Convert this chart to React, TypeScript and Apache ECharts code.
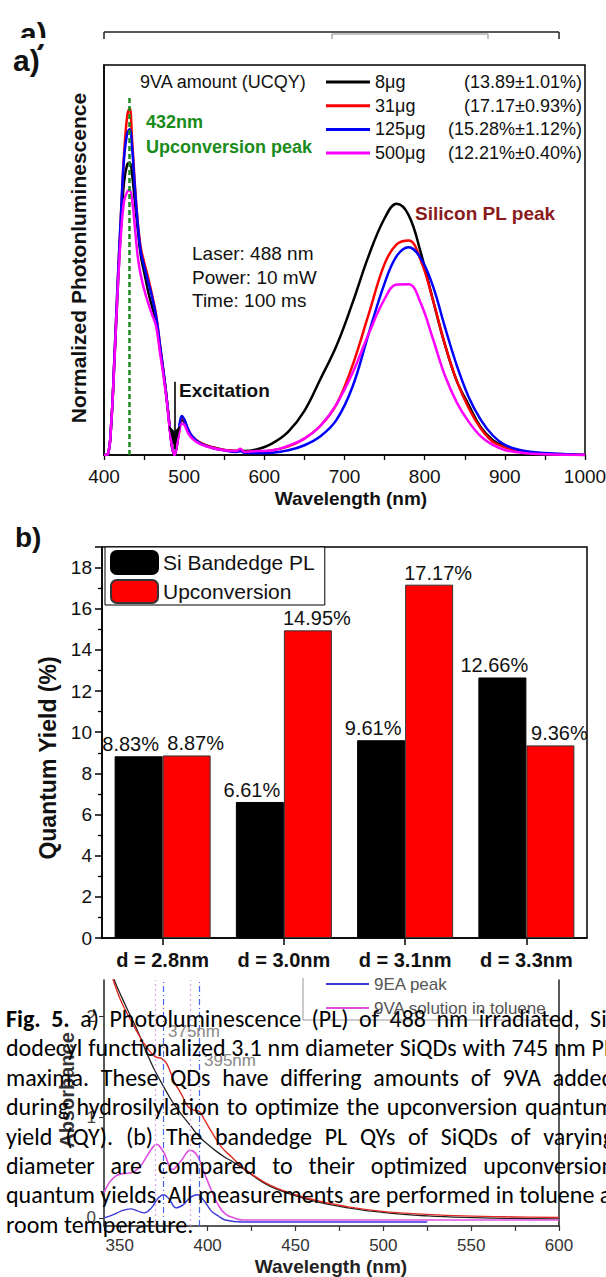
import React, { useEffect, useRef } from "react";
import * as echarts from "echarts";

// ---------------- Panel a: normalized photoluminescence ----------------
const wavelengthA = [400, 405, 409, 413, 417, 421, 425, 429, 432, 435, 438, 442, 446, 450, 455, 460, 465, 470, 475, 479, 482, 485, 488, 491, 494, 497, 500, 505, 510, 520, 535, 550, 565, 570, 575, 590, 610, 630, 650, 670, 690, 710, 730, 750, 765, 780, 795, 810, 825, 840, 855, 870, 885, 900, 920, 950, 1000];
const pl8ug = [0, 0.003, 0.08, 0.24, 0.42, 0.58, 0.70, 0.745, 0.75, 0.72, 0.66, 0.58, 0.51, 0.47, 0.42, 0.38, 0.34, 0.27, 0.2, 0.13, 0.07, 0.02, 0, 0.025, 0.065, 0.09, 0.085, 0.06, 0.045, 0.03, 0.02, 0.013, 0.01, 0.014, 0.01, 0.014, 0.03, 0.06, 0.113, 0.195, 0.28, 0.39, 0.51, 0.607, 0.644, 0.615, 0.52, 0.40, 0.285, 0.19, 0.128, 0.071, 0.038, 0.022, 0.01, 0.003, 0];
const pl31ug = [0, 0.003, 0.08, 0.25, 0.44, 0.61, 0.77, 0.87, 0.89, 0.81, 0.71, 0.6, 0.53, 0.495, 0.455, 0.41, 0.36, 0.28, 0.2, 0.13, 0.07, 0.02, 0, 0.028, 0.07, 0.095, 0.09, 0.065, 0.048, 0.032, 0.02, 0.013, 0.01, 0.015, 0.008, 0.008, 0.012, 0.022, 0.042, 0.075, 0.13, 0.23, 0.36, 0.49, 0.54, 0.55, 0.50, 0.40, 0.285, 0.19, 0.12, 0.068, 0.034, 0.02, 0.009, 0.003, 0];
const pl125ug = [0, 0.003, 0.08, 0.25, 0.44, 0.61, 0.76, 0.825, 0.835, 0.79, 0.70, 0.595, 0.52, 0.485, 0.445, 0.405, 0.355, 0.28, 0.2, 0.13, 0.07, 0.02, 0, 0.03, 0.075, 0.1, 0.092, 0.066, 0.048, 0.03, 0.018, 0.012, 0.008, 0.01, 0.006, 0.005, 0.006, 0.012, 0.025, 0.048, 0.09, 0.175, 0.31, 0.44, 0.51, 0.533, 0.505, 0.435, 0.33, 0.23, 0.148, 0.09, 0.05, 0.026, 0.012, 0.005, 0];
const pl500ug = [0, 0.003, 0.08, 0.24, 0.42, 0.56, 0.65, 0.675, 0.679, 0.655, 0.595, 0.51, 0.46, 0.425, 0.39, 0.36, 0.33, 0.26, 0.19, 0.125, 0.065, 0.02, 0, 0.025, 0.06, 0.08, 0.078, 0.056, 0.042, 0.028, 0.018, 0.012, 0.01, 0.016, 0.008, 0.01, 0.012, 0.024, 0.042, 0.075, 0.13, 0.21, 0.31, 0.40, 0.437, 0.438, 0.39, 0.30, 0.205, 0.135, 0.085, 0.048, 0.026, 0.013, 0.006, 0.002, 0];
const amountNames = ["8μg", "31μg", "125μg", "500μg"];
const ucqyLabels = ["(13.89±1.01%)", "(17.17±0.93%)", "(15.28%±1.12%)", "(12.21%±0.40%)"];
const plColors = ["#000000", "#ff0000", "#0000ff", "#ff00ff"];
const upconversionPeakNm = 432;
const upconversionMarkTop = 0.92;
const excitationNm = 488;
const excitationArrowFrom = 0.188;
const excitationArrowTo = 0.015;

// ---------------- Panel b: quantum yields ----------------
const diameters = ["d = 2.8nm", "d = 3.0nm", "d = 3.1nm", "d = 3.3nm"];
const siBandedgeQY = [8.83, 6.61, 9.61, 12.66];
const upconversionQY = [8.87, 14.95, 17.17, 9.36];

// ---------------- Panel c: absorbance (partly hidden) ----------------
const absBlackX = [341, 345, 348, 354, 360, 365, 370, 375, 380, 385, 390, 395, 400, 405, 410, 414, 420, 436, 458, 480, 502, 525, 546, 575, 600];
const absBlackY = [2.6, 2.45, 2.31, 2.08, 1.86, 1.65, 1.46, 1.3, 1.15, 1.03, 0.92, 0.81, 0.73, 0.66, 0.6, 0.56, 0.49, 0.31, 0.18, 0.1, 0.05, 0.02, 0.005, -0.005, -0.01];
const absRedX = [341, 345, 350, 355, 360, 365, 370, 374, 377, 381, 385, 389, 392, 395, 398, 402, 408, 414, 420, 436, 458, 480, 502, 525, 546, 575, 600];
const absRedY = [2.6, 2.42, 2.18, 2.0, 1.84, 1.7, 1.6, 1.58, 1.52, 1.35, 1.23, 1.1, 1.07, 1.06, 0.98, 0.86, 0.7, 0.6, 0.5, 0.32, 0.19, 0.11, 0.06, 0.035, 0.02, 0.01, 0.005];
const absMagentaX = [341, 344, 348, 352, 357, 362, 366, 371, 375, 380, 385, 390, 394, 398, 402, 406, 410, 415, 420, 450, 500, 550, 600];
const absMagentaY = [0.25, 0.35, 0.42, 0.44, 0.45, 0.52, 0.63, 0.73, 0.65, 0.48, 0.57, 0.67, 0.62, 0.45, 0.28, 0.13, 0.04, 0.0, -0.02, -0.02, -0.02, -0.02, -0.02];
const absBlueX = [341, 346, 351, 356, 360, 364, 368, 372, 375, 378, 382, 386, 390, 394, 398, 402, 406, 410, 420, 450, 500, 525];
const absBlueY = [0.0, 0.03, 0.07, 0.09, 0.07, 0.05, 0.1, 0.2, 0.23, 0.19, 0.1, 0.13, 0.2, 0.23, 0.17, 0.07, 0.02, -0.02, -0.04, -0.04, -0.04, -0.04];
const dottedRefNm = [370, 390];
const dashDotRefNm = [375, 395];

const captionRest = [
  "a) Photoluminescence (PL) of 488 nm irradiated, Si-",
  "dodecyl functionalized 3.1 nm diameter SiQDs with 745 nm PL",
  "maxima. These QDs have differing amounts of 9VA added",
  "during hydrosilylation to optimize the upconversion quantum",
  "yield (QY). (b) The bandedge PL QYs of SiQDs of varying",
  "diameter are compared to their optimized upconversion",
  "quantum yields. All measurements are performed in toluene at",
  "room temperature.",
];

const FONT = "'Liberation Sans', Arial, Helvetica, sans-serif";

function text(x: number, y: number, t: string, o: any = {}) {
  return {
    type: "text",
    x,
    y,
    rotation: o.rotation || 0,
    z: 50,
    style: {
      text: t,
      fill: o.color || "#111",
      fontSize: o.size || 18,
      fontWeight: o.bold ? "bold" : "normal",
      fontFamily: FONT,
      align: o.align || "left",
      verticalAlign: "middle",
    },
  };
}
function line(x1: number, y1: number, x2: number, y2: number, color = "#222", w = 1.5, dash?: number[]) {
  return { type: "line", z: 50, shape: { x1, y1, x2, y2 }, style: { stroke: color, lineWidth: w, lineDash: dash } };
}

function buildOption() {
  const plSeriesValues = [pl8ug, pl31ug, pl125ug, pl500ug];
  const ucqyByName: Record<string, string> = {};
  amountNames.forEach((n, i) => (ucqyByName[n] = ucqyLabels[i]));
  const axisLineStyle = { color: "#000", width: 1.5 };

  const plSeries = amountNames.map((name, i) => {
    const s: any = {
      type: "line",
      name,
      xAxisIndex: 0,
      yAxisIndex: 0,
      data: wavelengthA.map((w, j) => [w, plSeriesValues[i][j]]),
      symbol: "none",
      showSymbol: false,
      smooth: 0.4,
      lineStyle: { color: plColors[i], width: 2.5 },
      itemStyle: { color: plColors[i] },
      emphasis: { disabled: true },
    };
    if (i === 0) {
      s.markLine = {
        silent: true,
        symbol: ["none", "arrow"],
        symbolSize: [9, 24],
        label: { show: false },
        lineStyle: { color: "#000", width: 1.6, type: "solid" },
        data: [[{ coord: [excitationNm, excitationArrowFrom] }, { coord: [excitationNm, excitationArrowTo] }]],
      };
    }
    if (i === 3) {
      s.markLine = {
        silent: true,
        symbol: ["none", "none"],
        label: { show: false },
        lineStyle: { color: "#1a8c1a", width: 2.5, type: [5, 3] },
        data: [[{ coord: [upconversionPeakNm, 0] }, { coord: [upconversionPeakNm, upconversionMarkTop] }]],
      };
    }
    return s;
  });

  const absSeries = [
    {
      name: "SiQDs", x: absBlackX, y: absBlackY, color: "#222", w: 1.3,
      markLine: {
        silent: true, symbol: ["none", "none"], label: { show: false },
        lineStyle: { color: "#d8a8ea", width: 1.3, type: [2, 3] },
        data: dottedRefNm.map((v) => ({ xAxis: v, lineStyle: { color: "#d8a8ea", width: 1.3, type: [2, 3] } })),
      },
    },
    {
      name: "SiQDs + 9VA", x: absRedX, y: absRedY, color: "#e02a24", w: 1.4,
      markLine: {
        silent: true, symbol: ["none", "none"], label: { show: false },
        lineStyle: { color: "#4a66f0", width: 1.2, type: [6, 3, 1, 3] },
        data: dashDotRefNm.map((v) => ({ xAxis: v, lineStyle: { color: "#4a66f0", width: 1.2, type: [6, 3, 1, 3] } })),
      },
    },
    { name: "9EA peak", x: absBlueX, y: absBlueY, color: "#3a3ad6", w: 1.4 },
    { name: "9VA solution in toluene", x: absMagentaX, y: absMagentaY, color: "#e050e0", w: 1.6 },
  ].map((d) => ({
    type: "line",
    name: d.name,
    xAxisIndex: 2,
    yAxisIndex: 2,
    data: d.x.map((x, i) => [x, d.y[i]]),
    symbol: "none",
    smooth: 0.4,
    lineStyle: { color: d.color, width: d.w },
    itemStyle: { color: d.color },
    markLine: (d as any).markLine,
    emphasis: { disabled: true },
  }));

  return {
    animation: false,
    textStyle: { fontFamily: FONT },
    grid: [
      { left: 104, top: 65, width: 481, height: 390, show: true, borderColor: "#000", borderWidth: 1.5, outerBoundsMode: "none" },
      { left: 102, top: 547, width: 485, height: 391, show: true, borderColor: "#000", borderWidth: 1.5, outerBoundsMode: "none" },
      { left: 104, top: 980, width: 455, height: 246, outerBoundsMode: "none" },
    ],
    legend: [
      {
        data: amountNames,
        orient: "vertical",
        left: 326,
        top: 72,
        padding: 0,
        icon: "rect",
        itemWidth: 44,
        itemHeight: 3,
        itemGap: 3.7,
        selectedMode: false,
        formatter: (name: string) => `{a|${name}}{b|${ucqyByName[name]}}`,
        textStyle: {
          fontSize: 18,
          color: "#111",
          lineHeight: 20,
          fontFamily: FONT,
          rich: {
            a: { width: 58, fontSize: 18, color: "#111", fontFamily: FONT, lineHeight: 20 },
            b: { width: 149, align: "right", fontSize: 18, color: "#111", fontFamily: FONT, lineHeight: 20 },
          },
        },
      },
      {
        data: ["Si Bandedge PL", "Upconversion"],
        orient: "vertical",
        left: 105,
        top: 547,
        padding: [3, 10, 1, 5],
        itemWidth: 47,
        itemHeight: 23,
        itemGap: 4,
        selectedMode: false,
        borderColor: "#000",
        borderWidth: 1,
        backgroundColor: "#fff",
        textStyle: { fontSize: 21, color: "#111", fontFamily: FONT },
      },
      {
        data: ["9EA peak", "9VA solution in toluene"],
        orient: "vertical",
        left: 326,
        top: 974,
        padding: 0,
        icon: "rect",
        itemWidth: 43,
        itemHeight: 2,
        itemGap: 4,
        selectedMode: false,
        textStyle: { fontSize: 17, color: "#555", lineHeight: 20, fontFamily: FONT },
      },
    ],
    xAxis: [
      {
        gridIndex: 0, type: "value", min: 400, max: 1000, interval: 100,
        axisLine: { onZero: false, lineStyle: axisLineStyle },
        axisTick: { show: true, length: 5, lineStyle: { color: "#000", width: 1.3 } },
        minorTick: { show: true, splitNumber: 2, length: 5, lineStyle: { color: "#000", width: 1.3 } },
        axisLabel: { fontSize: 19, color: "#111", margin: 12, fontFamily: FONT, formatter: (v: number) => String(v) },
        splitLine: { show: false },
        minorSplitLine: { show: false },
      },
      {
        gridIndex: 1, type: "category", data: diameters,
        axisLine: { onZero: false, lineStyle: axisLineStyle },
        axisTick: { show: true, alignWithLabel: true, length: 7, lineStyle: { color: "#000", width: 1.5 } },
        axisLabel: { fontSize: 20, fontWeight: "bold", color: "#111", margin: 12, fontFamily: FONT },
        splitLine: { show: false },
      },
      {
        gridIndex: 2, type: "value", min: 341, max: 600, splitNumber: 5,
        axisLine: { onZero: false, lineStyle: { color: "#222", width: 1.5 } },
        axisTick: { show: true, length: 5, lineStyle: { color: "#333", width: 1.2 } },
        minorTick: { show: true, splitNumber: 2, length: 5, lineStyle: { color: "#333", width: 1.2 } },
        axisLabel: { showMinLabel: false, fontSize: 17, color: "#333", margin: 11, fontFamily: FONT, formatter: (v: number) => String(v) },
        splitLine: { show: false },
        minorSplitLine: { show: false },
      },
    ],
    yAxis: [
      {
        gridIndex: 0, type: "value", min: 0, max: 1,
        axisLine: { show: true, onZero: false, lineStyle: axisLineStyle },
        axisTick: { show: false },
        axisLabel: { show: false },
        splitLine: { show: false },
      },
      {
        gridIndex: 1, type: "value", min: 0, max: 19, interval: 2,
        axisLine: { show: true, onZero: false, lineStyle: axisLineStyle },
        axisTick: { show: true, length: 7, lineStyle: { color: "#000", width: 1.5 } },
        minorTick: { show: true, splitNumber: 2, length: 4, lineStyle: { color: "#000", width: 1.3 } },
        axisLabel: { showMaxLabel: false, fontSize: 19, color: "#111", margin: 10, fontFamily: FONT },
        splitLine: { show: false },
        minorSplitLine: { show: false },
      },
      {
        gridIndex: 2, type: "value", min: -0.08, max: 2.36, splitNumber: 2,
        axisLine: { show: true, onZero: false, lineStyle: { color: "#222", width: 1.5 } },
        axisTick: { show: true, length: 5, lineStyle: { color: "#333" } },
        axisLabel: { showMinLabel: false, showMaxLabel: false, fontSize: 17, color: "#444", margin: 8, fontFamily: FONT },
        splitLine: { show: false },
      },
      {
        gridIndex: 2, type: "value", min: -0.08, max: 2.36, position: "right",
        axisLine: { show: true, onZero: false, lineStyle: { color: "#222", width: 1.5 } },
        axisTick: { show: false },
        axisLabel: { show: false },
        splitLine: { show: false },
      },
    ],
    series: [
      ...plSeries,
      {
        type: "bar",
        name: "Si Bandedge PL",
        xAxisIndex: 1,
        yAxisIndex: 1,
        data: siBandedgeQY,
        barWidth: "39.6%",
        barGap: "0%",
        itemStyle: { color: "#000", borderColor: "#000", borderWidth: 1 },
        label: {
          show: true, position: "top", distance: 2, offset: [-8, 0],
          formatter: (p: any) => `${Number(p.value).toFixed(2)}%`,
          fontSize: 20, color: "#111", fontFamily: FONT,
        },
        emphasis: { disabled: true },
      },
      {
        type: "bar",
        name: "Upconversion",
        xAxisIndex: 1,
        yAxisIndex: 1,
        data: upconversionQY,
        barWidth: "39.6%",
        barGap: "0%",
        itemStyle: { color: "#ff0000", borderColor: "#333", borderWidth: 1 },
        label: {
          show: true, position: "top", distance: 2, offset: [9, 0],
          formatter: (p: any) => `${Number(p.value).toFixed(2)}%`,
          fontSize: 20, color: "#111", fontFamily: FONT,
        },
        emphasis: { disabled: true },
      },
      ...absSeries,
    ],
    graphic: {
      elements: [
        // cut-off header of a previous panel
        text(20, 33, "a)", { size: 30, bold: true, color: "#111" }),
        { type: "rect", z: 60, shape: { x: 0, y: 38, width: 100, height: 6 }, style: { fill: "#fff" } },
        line(104, 32, 559, 32, "#222", 1.5),
        line(104, 32, 104, 39, "#222", 1.5),
        line(559, 32, 559, 39, "#222", 1.5),
        line(332, 34, 488, 34, "#888", 1),
        line(332, 34, 332, 39, "#888", 1),
        line(488, 34, 488, 39, "#888", 1),
        // panel a
        text(13, 60, "a)", { size: 30, bold: true, color: "#111" }),
        text(78, 258, "Normalized Photonluminescence", { size: 21, bold: true, align: "center", rotation: Math.PI / 2 }),
        text(351, 498, "Wavelength (nm)", { size: 19, bold: true, align: "center" }),
        text(140, 82, "9VA amount (UCQY)", { size: 18 }),
        text(146, 122, "432nm", { size: 18, bold: true, color: "#1a8c1a" }),
        text(146, 147, "Upconversion peak", { size: 18, bold: true, color: "#1a8c1a" }),
        text(415, 213, "Silicon PL peak", { size: 19, bold: true, color: "#8b1a1a" }),
        text(192, 253, "Laser: 488 nm", { size: 19 }),
        text(192, 277, "Power: 10 mW", { size: 19 }),
        text(192, 300, "Time: 100 ms", { size: 19 }),
        text(179, 390, "Excitation", { size: 19, bold: true }),
        // panel b
        text(15, 537, "b)", { size: 28, bold: true, color: "#111" }),
        text(48, 758, "Quantum Yield (%)", { size: 23, bold: true, align: "center", rotation: Math.PI / 2 }),
        // panel c
        text(67, 1090, "Absorbance", { size: 20, bold: true, align: "center", rotation: Math.PI / 2, color: "#333" }),
        text(331, 1266, "Wavelength (nm)", { size: 19, bold: true, align: "center", color: "#222" }),
        text(168, 1031, "375nm", { size: 17, color: "#888" }),
        text(204, 1060, "395nm", { size: 17, color: "#888" }),
        line(303, 978, 303, 1020, "#999", 1),
        line(303, 1020, 559, 1020, "#999", 1),
      ],
    },
  };
}

export default function App() {
  const ref = useRef<HTMLDivElement>(null);
  useEffect(() => {
    if (!ref.current) return;
    const chart = echarts.init(ref.current, null, { renderer: "svg" });
    chart.setOption(buildOption() as any);
    return () => chart.dispose();
  }, []);
  return (
    <div style={{ position: "absolute", left: 0, top: 0, width: 606, height: 1277, overflow: "hidden", background: "#fff" }}>
      <div ref={ref} style={{ position: "absolute", left: 0, top: 0, width: 606, height: 1277 }} />
      <div
        style={{
          position: "absolute",
          left: 6,
          top: 1004,
          width: 608,
          fontFamily: "Carlito, Lato, 'Open Sans', sans-serif",
          fontSize: 24,
          lineHeight: "29.4px",
          color: "#000",
          pointerEvents: "none",
        }}
      >
        {captionRest.map((l, i) => {
          const last = i === captionRest.length - 1;
          return (
            <div
              key={i}
              style={{
                whiteSpace: "nowrap",
                textAlign: last ? "left" : "justify",
                textAlignLast: last ? "left" : "justify",
              } as any}
            >
              {i === 0 ? (
                <>
                  <b>Fig. 5.</b> {l}
                </>
              ) : (
                l
              )}
            </div>
          );
        })}
      </div>
    </div>
  );
}
